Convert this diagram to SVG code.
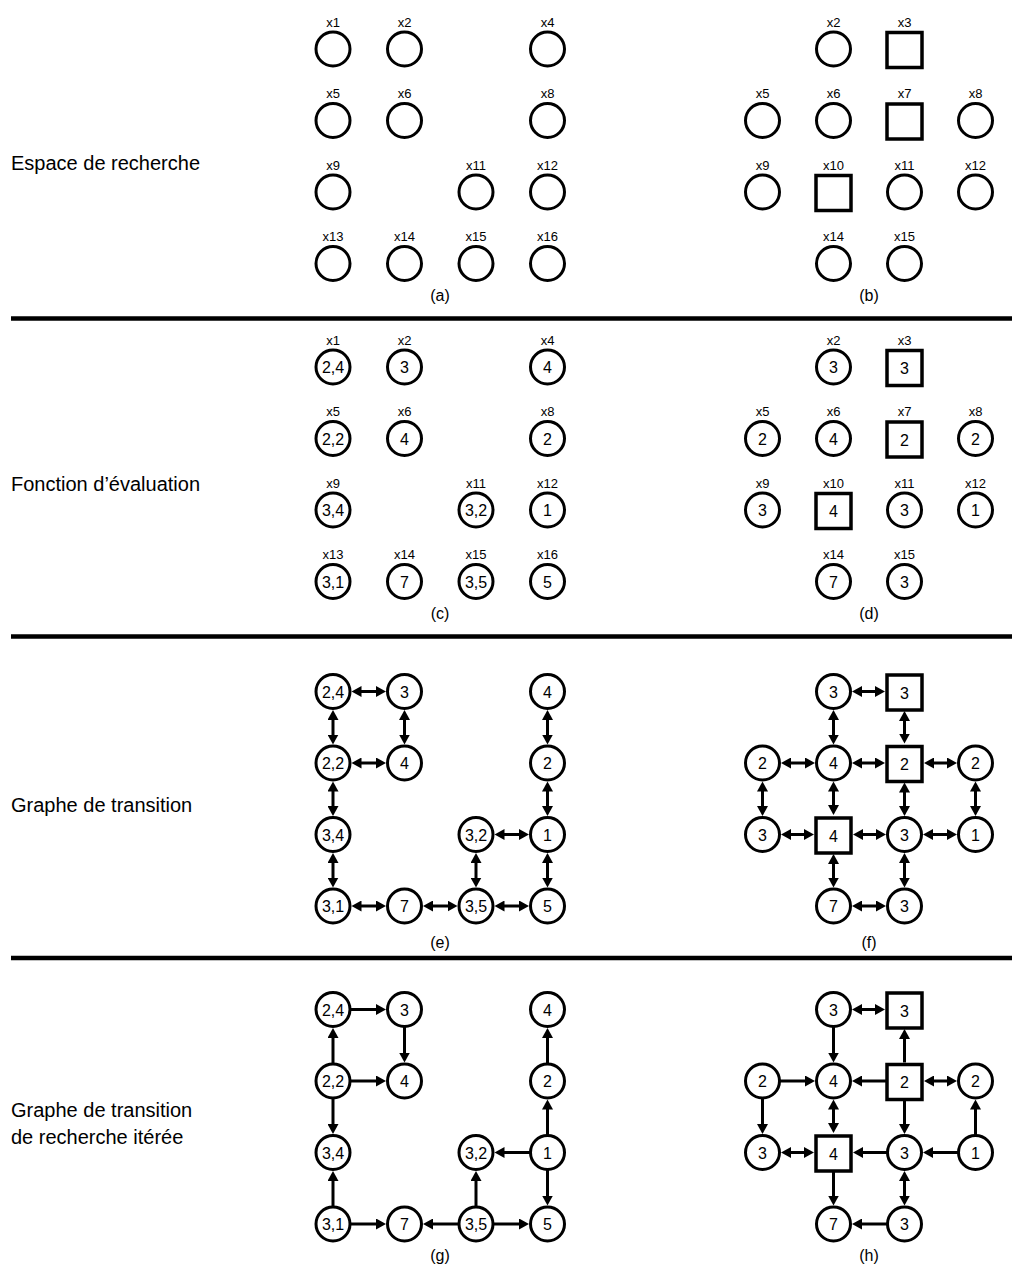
<svg xmlns="http://www.w3.org/2000/svg" width="1015" height="1271" viewBox="0 0 1015 1271">
<style>
text{font-family:"Liberation Sans",Arial,Helvetica,sans-serif;fill:#000;text-anchor:middle}
.side{font-size:20px;text-anchor:start}
.lbl{font-size:13px}
.val{font-size:16px}
.cap{font-size:16px}
.n{fill:#fff;stroke:#000;stroke-width:3}
.s{fill:#fff;stroke:#000;stroke-width:3.5}
.sep{stroke:#000;stroke-width:4.5}
.e{stroke:#000;stroke-width:3;fill:none;marker-end:url(#ah)}
.bi{marker-start:url(#ah)}
</style>
<defs>
<marker id="ah" markerUnits="userSpaceOnUse" markerWidth="11" markerHeight="11" refX="4" refY="5.5" orient="auto-start-reverse"><path d="M0,0 L10,5.5 L0,11 z" fill="#000"/></marker>
</defs>
<rect width="1015" height="1271" fill="#fff"/>
<g id="side-labels">
<text class="side" x="11" y="170">Espace de recherche</text>
<text class="side" x="11" y="491">Fonction d’évaluation</text>
<text class="side" x="11" y="812">Graphe de transition</text>
<text class="side" x="11" y="1117">Graphe de transition</text>
<text class="side" x="11" y="1144">de recherche itérée</text>
</g>
<g id="separators">
<line class="sep" x1="11" y1="318.5" x2="1012" y2="318.5"/>
<line class="sep" x1="11" y1="636.5" x2="1012" y2="636.5"/>
<line class="sep" x1="11" y1="958" x2="1012" y2="958"/>
</g>
<g id="captions">
<text class="cap" x="440" y="301">(a)</text>
<text class="cap" x="869" y="301">(b)</text>
<text class="cap" x="440" y="619">(c)</text>
<text class="cap" x="869" y="619">(d)</text>
<text class="cap" x="440" y="948">(e)</text>
<text class="cap" x="869" y="948">(f)</text>
<text class="cap" x="440" y="1261">(g)</text>
<text class="cap" x="869" y="1261">(h)</text>
</g>
<g id="connectors">
<!-- (e) -->
<line class="e bi" x1="357.5" y1="691.5" x2="380" y2="691.5"/>
<line class="e bi" x1="333" y1="716" x2="333" y2="738.5"/>
<line class="e bi" x1="404.5" y1="716" x2="404.5" y2="738.5"/>
<line class="e bi" x1="357.5" y1="763" x2="380" y2="763"/>
<line class="e bi" x1="333" y1="787.5" x2="333" y2="810"/>
<line class="e bi" x1="333" y1="859" x2="333" y2="881.5"/>
<line class="e bi" x1="357.5" y1="906" x2="380" y2="906"/>
<line class="e bi" x1="429" y1="906" x2="451.5" y2="906"/>
<line class="e bi" x1="500.5" y1="906" x2="523" y2="906"/>
<line class="e bi" x1="476" y1="859" x2="476" y2="881.5"/>
<line class="e bi" x1="500.5" y1="834.5" x2="523" y2="834.5"/>
<line class="e bi" x1="547.5" y1="859" x2="547.5" y2="881.5"/>
<line class="e bi" x1="547.5" y1="787.5" x2="547.5" y2="810"/>
<line class="e bi" x1="547.5" y1="716" x2="547.5" y2="738.5"/>
<!-- (f) -->
<line class="e bi" x1="858" y1="691.5" x2="879" y2="691.5"/>
<line class="e bi" x1="833.5" y1="716" x2="833.5" y2="738.5"/>
<line class="e bi" x1="904.5" y1="717" x2="904.5" y2="737.5"/>
<line class="e bi" x1="787" y1="763" x2="809" y2="763"/>
<line class="e bi" x1="858" y1="763" x2="879" y2="763"/>
<line class="e bi" x1="930" y1="763" x2="951" y2="763"/>
<line class="e bi" x1="762.5" y1="787.5" x2="762.5" y2="810"/>
<line class="e bi" x1="833.5" y1="787.5" x2="833.5" y2="809"/>
<line class="e bi" x1="904.5" y1="788.5" x2="904.5" y2="810"/>
<line class="e bi" x1="975.5" y1="787.5" x2="975.5" y2="810"/>
<line class="e bi" x1="787" y1="834.5" x2="808" y2="834.5"/>
<line class="e bi" x1="859" y1="834.5" x2="880" y2="834.5"/>
<line class="e bi" x1="929" y1="834.5" x2="951" y2="834.5"/>
<line class="e bi" x1="833.5" y1="860" x2="833.5" y2="881.5"/>
<line class="e bi" x1="904.5" y1="859" x2="904.5" y2="881.5"/>
<line class="e bi" x1="858" y1="906" x2="880" y2="906"/>
<!-- (g) -->
<line class="e" x1="350.5" y1="1009.5" x2="380" y2="1009.5"/>
<line class="e" x1="404.5" y1="1027" x2="404.5" y2="1056.5"/>
<line class="e" x1="333" y1="1063.5" x2="333" y2="1034"/>
<line class="e" x1="350.5" y1="1081" x2="380" y2="1081"/>
<line class="e" x1="333" y1="1098.5" x2="333" y2="1128"/>
<line class="e" x1="333" y1="1206.5" x2="333" y2="1177"/>
<line class="e" x1="350.5" y1="1224" x2="380" y2="1224"/>
<line class="e" x1="458.5" y1="1224" x2="429" y2="1224"/>
<line class="e" x1="493.5" y1="1224" x2="523" y2="1224"/>
<line class="e" x1="476" y1="1206.5" x2="476" y2="1177"/>
<line class="e" x1="530" y1="1152.5" x2="500.5" y2="1152.5"/>
<line class="e" x1="547.5" y1="1170" x2="547.5" y2="1199.5"/>
<line class="e" x1="547.5" y1="1135" x2="547.5" y2="1105.5"/>
<line class="e" x1="547.5" y1="1063.5" x2="547.5" y2="1034"/>
<!-- (h) -->
<line class="e bi" x1="858" y1="1009.5" x2="879" y2="1009.5"/>
<line class="e" x1="833.5" y1="1027" x2="833.5" y2="1056.5"/>
<line class="e" x1="904.5" y1="1062.5" x2="904.5" y2="1035"/>
<line class="e" x1="780" y1="1081" x2="809" y2="1081"/>
<line class="e" x1="886" y1="1081" x2="858" y2="1081"/>
<line class="e bi" x1="930" y1="1081" x2="951" y2="1081"/>
<line class="e" x1="762.5" y1="1098.5" x2="762.5" y2="1128"/>
<line class="e bi" x1="833.5" y1="1105.5" x2="833.5" y2="1127"/>
<line class="e" x1="904.5" y1="1099.5" x2="904.5" y2="1128"/>
<line class="e" x1="975.5" y1="1135" x2="975.5" y2="1105.5"/>
<line class="e bi" x1="787" y1="1152.5" x2="808" y2="1152.5"/>
<line class="e" x1="887" y1="1152.5" x2="859" y2="1152.5"/>
<line class="e" x1="958" y1="1152.5" x2="929" y2="1152.5"/>
<line class="e" x1="833.5" y1="1171" x2="833.5" y2="1199.5"/>
<line class="e bi" x1="904.5" y1="1177" x2="904.5" y2="1199.5"/>
<line class="e" x1="887" y1="1224" x2="858" y2="1224"/>
</g>
<!-- (a) -->
<g id="a-x1"><circle class="n" cx="333" cy="49" r="17"/><text class="lbl" x="333" y="26.5">x1</text></g>
<g id="a-x2"><circle class="n" cx="404.5" cy="49" r="17"/><text class="lbl" x="404.5" y="26.5">x2</text></g>
<g id="a-x4"><circle class="n" cx="547.5" cy="49" r="17"/><text class="lbl" x="547.5" y="26.5">x4</text></g>
<g id="a-x5"><circle class="n" cx="333" cy="120.5" r="17"/><text class="lbl" x="333" y="98">x5</text></g>
<g id="a-x6"><circle class="n" cx="404.5" cy="120.5" r="17"/><text class="lbl" x="404.5" y="98">x6</text></g>
<g id="a-x8"><circle class="n" cx="547.5" cy="120.5" r="17"/><text class="lbl" x="547.5" y="98">x8</text></g>
<g id="a-x9"><circle class="n" cx="333" cy="192" r="17"/><text class="lbl" x="333" y="169.5">x9</text></g>
<g id="a-x11"><circle class="n" cx="476" cy="192" r="17"/><text class="lbl" x="476" y="169.5">x11</text></g>
<g id="a-x12"><circle class="n" cx="547.5" cy="192" r="17"/><text class="lbl" x="547.5" y="169.5">x12</text></g>
<g id="a-x13"><circle class="n" cx="333" cy="263.5" r="17"/><text class="lbl" x="333" y="241">x13</text></g>
<g id="a-x14"><circle class="n" cx="404.5" cy="263.5" r="17"/><text class="lbl" x="404.5" y="241">x14</text></g>
<g id="a-x15"><circle class="n" cx="476" cy="263.5" r="17"/><text class="lbl" x="476" y="241">x15</text></g>
<g id="a-x16"><circle class="n" cx="547.5" cy="263.5" r="17"/><text class="lbl" x="547.5" y="241">x16</text></g>
<!-- (b) -->
<g id="b-x2"><circle class="n" cx="833.5" cy="49" r="17"/><text class="lbl" x="833.5" y="26.5">x2</text></g>
<g id="b-x3"><rect class="s" x="887" y="32.5" width="35" height="35"/><text class="lbl" x="904.5" y="26.5">x3</text></g>
<g id="b-x5"><circle class="n" cx="762.5" cy="120.5" r="17"/><text class="lbl" x="762.5" y="98">x5</text></g>
<g id="b-x6"><circle class="n" cx="833.5" cy="120.5" r="17"/><text class="lbl" x="833.5" y="98">x6</text></g>
<g id="b-x7"><rect class="s" x="887" y="104" width="35" height="35"/><text class="lbl" x="904.5" y="98">x7</text></g>
<g id="b-x8"><circle class="n" cx="975.5" cy="120.5" r="17"/><text class="lbl" x="975.5" y="98">x8</text></g>
<g id="b-x9"><circle class="n" cx="762.5" cy="192" r="17"/><text class="lbl" x="762.5" y="169.5">x9</text></g>
<g id="b-x10"><rect class="s" x="816" y="175.5" width="35" height="35"/><text class="lbl" x="833.5" y="169.5">x10</text></g>
<g id="b-x11"><circle class="n" cx="904.5" cy="192" r="17"/><text class="lbl" x="904.5" y="169.5">x11</text></g>
<g id="b-x12"><circle class="n" cx="975.5" cy="192" r="17"/><text class="lbl" x="975.5" y="169.5">x12</text></g>
<g id="b-x14"><circle class="n" cx="833.5" cy="263.5" r="17"/><text class="lbl" x="833.5" y="241">x14</text></g>
<g id="b-x15"><circle class="n" cx="904.5" cy="263.5" r="17"/><text class="lbl" x="904.5" y="241">x15</text></g>
<!-- (c) -->
<g id="c-x1"><circle class="n" cx="333" cy="367" r="17"/><text class="lbl" x="333" y="344.5">x1</text><text class="val" x="333" y="373">2,4</text></g>
<g id="c-x2"><circle class="n" cx="404.5" cy="367" r="17"/><text class="lbl" x="404.5" y="344.5">x2</text><text class="val" x="404.5" y="373">3</text></g>
<g id="c-x4"><circle class="n" cx="547.5" cy="367" r="17"/><text class="lbl" x="547.5" y="344.5">x4</text><text class="val" x="547.5" y="373">4</text></g>
<g id="c-x5"><circle class="n" cx="333" cy="438.5" r="17"/><text class="lbl" x="333" y="416">x5</text><text class="val" x="333" y="444.5">2,2</text></g>
<g id="c-x6"><circle class="n" cx="404.5" cy="438.5" r="17"/><text class="lbl" x="404.5" y="416">x6</text><text class="val" x="404.5" y="444.5">4</text></g>
<g id="c-x8"><circle class="n" cx="547.5" cy="438.5" r="17"/><text class="lbl" x="547.5" y="416">x8</text><text class="val" x="547.5" y="444.5">2</text></g>
<g id="c-x9"><circle class="n" cx="333" cy="510" r="17"/><text class="lbl" x="333" y="487.5">x9</text><text class="val" x="333" y="516">3,4</text></g>
<g id="c-x11"><circle class="n" cx="476" cy="510" r="17"/><text class="lbl" x="476" y="487.5">x11</text><text class="val" x="476" y="516">3,2</text></g>
<g id="c-x12"><circle class="n" cx="547.5" cy="510" r="17"/><text class="lbl" x="547.5" y="487.5">x12</text><text class="val" x="547.5" y="516">1</text></g>
<g id="c-x13"><circle class="n" cx="333" cy="581.5" r="17"/><text class="lbl" x="333" y="559">x13</text><text class="val" x="333" y="587.5">3,1</text></g>
<g id="c-x14"><circle class="n" cx="404.5" cy="581.5" r="17"/><text class="lbl" x="404.5" y="559">x14</text><text class="val" x="404.5" y="587.5">7</text></g>
<g id="c-x15"><circle class="n" cx="476" cy="581.5" r="17"/><text class="lbl" x="476" y="559">x15</text><text class="val" x="476" y="587.5">3,5</text></g>
<g id="c-x16"><circle class="n" cx="547.5" cy="581.5" r="17"/><text class="lbl" x="547.5" y="559">x16</text><text class="val" x="547.5" y="587.5">5</text></g>
<!-- (d) -->
<g id="d-x2"><circle class="n" cx="833.5" cy="367" r="17"/><text class="lbl" x="833.5" y="344.5">x2</text><text class="val" x="833.5" y="373">3</text></g>
<g id="d-x3"><rect class="s" x="887" y="350.5" width="35" height="35"/><text class="lbl" x="904.5" y="344.5">x3</text><text class="val" x="904.5" y="374">3</text></g>
<g id="d-x5"><circle class="n" cx="762.5" cy="438.5" r="17"/><text class="lbl" x="762.5" y="416">x5</text><text class="val" x="762.5" y="444.5">2</text></g>
<g id="d-x6"><circle class="n" cx="833.5" cy="438.5" r="17"/><text class="lbl" x="833.5" y="416">x6</text><text class="val" x="833.5" y="444.5">4</text></g>
<g id="d-x7"><rect class="s" x="887" y="422" width="35" height="35"/><text class="lbl" x="904.5" y="416">x7</text><text class="val" x="904.5" y="445.5">2</text></g>
<g id="d-x8"><circle class="n" cx="975.5" cy="438.5" r="17"/><text class="lbl" x="975.5" y="416">x8</text><text class="val" x="975.5" y="444.5">2</text></g>
<g id="d-x9"><circle class="n" cx="762.5" cy="510" r="17"/><text class="lbl" x="762.5" y="487.5">x9</text><text class="val" x="762.5" y="516">3</text></g>
<g id="d-x10"><rect class="s" x="816" y="493.5" width="35" height="35"/><text class="lbl" x="833.5" y="487.5">x10</text><text class="val" x="833.5" y="517">4</text></g>
<g id="d-x11"><circle class="n" cx="904.5" cy="510" r="17"/><text class="lbl" x="904.5" y="487.5">x11</text><text class="val" x="904.5" y="516">3</text></g>
<g id="d-x12"><circle class="n" cx="975.5" cy="510" r="17"/><text class="lbl" x="975.5" y="487.5">x12</text><text class="val" x="975.5" y="516">1</text></g>
<g id="d-x14"><circle class="n" cx="833.5" cy="581.5" r="17"/><text class="lbl" x="833.5" y="559">x14</text><text class="val" x="833.5" y="587.5">7</text></g>
<g id="d-x15"><circle class="n" cx="904.5" cy="581.5" r="17"/><text class="lbl" x="904.5" y="559">x15</text><text class="val" x="904.5" y="587.5">3</text></g>
<!-- (e) -->
<g id="e-x1"><circle class="n" cx="333" cy="691.5" r="17"/><text class="val" x="333" y="697.5">2,4</text></g>
<g id="e-x2"><circle class="n" cx="404.5" cy="691.5" r="17"/><text class="val" x="404.5" y="697.5">3</text></g>
<g id="e-x4"><circle class="n" cx="547.5" cy="691.5" r="17"/><text class="val" x="547.5" y="697.5">4</text></g>
<g id="e-x5"><circle class="n" cx="333" cy="763" r="17"/><text class="val" x="333" y="769">2,2</text></g>
<g id="e-x6"><circle class="n" cx="404.5" cy="763" r="17"/><text class="val" x="404.5" y="769">4</text></g>
<g id="e-x8"><circle class="n" cx="547.5" cy="763" r="17"/><text class="val" x="547.5" y="769">2</text></g>
<g id="e-x9"><circle class="n" cx="333" cy="834.5" r="17"/><text class="val" x="333" y="840.5">3,4</text></g>
<g id="e-x11"><circle class="n" cx="476" cy="834.5" r="17"/><text class="val" x="476" y="840.5">3,2</text></g>
<g id="e-x12"><circle class="n" cx="547.5" cy="834.5" r="17"/><text class="val" x="547.5" y="840.5">1</text></g>
<g id="e-x13"><circle class="n" cx="333" cy="906" r="17"/><text class="val" x="333" y="912">3,1</text></g>
<g id="e-x14"><circle class="n" cx="404.5" cy="906" r="17"/><text class="val" x="404.5" y="912">7</text></g>
<g id="e-x15"><circle class="n" cx="476" cy="906" r="17"/><text class="val" x="476" y="912">3,5</text></g>
<g id="e-x16"><circle class="n" cx="547.5" cy="906" r="17"/><text class="val" x="547.5" y="912">5</text></g>
<!-- (f) -->
<g id="f-x2"><circle class="n" cx="833.5" cy="691.5" r="17"/><text class="val" x="833.5" y="697.5">3</text></g>
<g id="f-x3"><rect class="s" x="887" y="675" width="35" height="35"/><text class="val" x="904.5" y="698.5">3</text></g>
<g id="f-x5"><circle class="n" cx="762.5" cy="763" r="17"/><text class="val" x="762.5" y="769">2</text></g>
<g id="f-x6"><circle class="n" cx="833.5" cy="763" r="17"/><text class="val" x="833.5" y="769">4</text></g>
<g id="f-x7"><rect class="s" x="887" y="746.5" width="35" height="35"/><text class="val" x="904.5" y="770">2</text></g>
<g id="f-x8"><circle class="n" cx="975.5" cy="763" r="17"/><text class="val" x="975.5" y="769">2</text></g>
<g id="f-x9"><circle class="n" cx="762.5" cy="834.5" r="17"/><text class="val" x="762.5" y="840.5">3</text></g>
<g id="f-x10"><rect class="s" x="816" y="818" width="35" height="35"/><text class="val" x="833.5" y="841.5">4</text></g>
<g id="f-x11"><circle class="n" cx="904.5" cy="834.5" r="17"/><text class="val" x="904.5" y="840.5">3</text></g>
<g id="f-x12"><circle class="n" cx="975.5" cy="834.5" r="17"/><text class="val" x="975.5" y="840.5">1</text></g>
<g id="f-x14"><circle class="n" cx="833.5" cy="906" r="17"/><text class="val" x="833.5" y="912">7</text></g>
<g id="f-x15"><circle class="n" cx="904.5" cy="906" r="17"/><text class="val" x="904.5" y="912">3</text></g>
<!-- (g) -->
<g id="g-x1"><circle class="n" cx="333" cy="1009.5" r="17"/><text class="val" x="333" y="1015.5">2,4</text></g>
<g id="g-x2"><circle class="n" cx="404.5" cy="1009.5" r="17"/><text class="val" x="404.5" y="1015.5">3</text></g>
<g id="g-x4"><circle class="n" cx="547.5" cy="1009.5" r="17"/><text class="val" x="547.5" y="1015.5">4</text></g>
<g id="g-x5"><circle class="n" cx="333" cy="1081" r="17"/><text class="val" x="333" y="1087">2,2</text></g>
<g id="g-x6"><circle class="n" cx="404.5" cy="1081" r="17"/><text class="val" x="404.5" y="1087">4</text></g>
<g id="g-x8"><circle class="n" cx="547.5" cy="1081" r="17"/><text class="val" x="547.5" y="1087">2</text></g>
<g id="g-x9"><circle class="n" cx="333" cy="1152.5" r="17"/><text class="val" x="333" y="1158.5">3,4</text></g>
<g id="g-x11"><circle class="n" cx="476" cy="1152.5" r="17"/><text class="val" x="476" y="1158.5">3,2</text></g>
<g id="g-x12"><circle class="n" cx="547.5" cy="1152.5" r="17"/><text class="val" x="547.5" y="1158.5">1</text></g>
<g id="g-x13"><circle class="n" cx="333" cy="1224" r="17"/><text class="val" x="333" y="1230">3,1</text></g>
<g id="g-x14"><circle class="n" cx="404.5" cy="1224" r="17"/><text class="val" x="404.5" y="1230">7</text></g>
<g id="g-x15"><circle class="n" cx="476" cy="1224" r="17"/><text class="val" x="476" y="1230">3,5</text></g>
<g id="g-x16"><circle class="n" cx="547.5" cy="1224" r="17"/><text class="val" x="547.5" y="1230">5</text></g>
<!-- (h) -->
<g id="h-x2"><circle class="n" cx="833.5" cy="1009.5" r="17"/><text class="val" x="833.5" y="1015.5">3</text></g>
<g id="h-x3"><rect class="s" x="887" y="993" width="35" height="35"/><text class="val" x="904.5" y="1016.5">3</text></g>
<g id="h-x5"><circle class="n" cx="762.5" cy="1081" r="17"/><text class="val" x="762.5" y="1087">2</text></g>
<g id="h-x6"><circle class="n" cx="833.5" cy="1081" r="17"/><text class="val" x="833.5" y="1087">4</text></g>
<g id="h-x7"><rect class="s" x="887" y="1064.5" width="35" height="35"/><text class="val" x="904.5" y="1088">2</text></g>
<g id="h-x8"><circle class="n" cx="975.5" cy="1081" r="17"/><text class="val" x="975.5" y="1087">2</text></g>
<g id="h-x9"><circle class="n" cx="762.5" cy="1152.5" r="17"/><text class="val" x="762.5" y="1158.5">3</text></g>
<g id="h-x10"><rect class="s" x="816" y="1136" width="35" height="35"/><text class="val" x="833.5" y="1159.5">4</text></g>
<g id="h-x11"><circle class="n" cx="904.5" cy="1152.5" r="17"/><text class="val" x="904.5" y="1158.5">3</text></g>
<g id="h-x12"><circle class="n" cx="975.5" cy="1152.5" r="17"/><text class="val" x="975.5" y="1158.5">1</text></g>
<g id="h-x14"><circle class="n" cx="833.5" cy="1224" r="17"/><text class="val" x="833.5" y="1230">7</text></g>
<g id="h-x15"><circle class="n" cx="904.5" cy="1224" r="17"/><text class="val" x="904.5" y="1230">3</text></g>
</svg>
